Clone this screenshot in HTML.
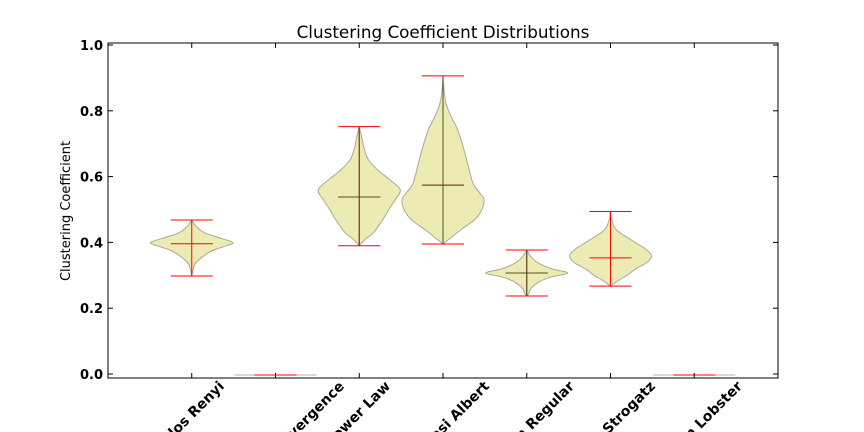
<!DOCTYPE html>
<html><head><meta charset="utf-8"><style>
html,body{margin:0;background:#fff;width:864px;height:432px;overflow:hidden;}
svg{display:block;font-family:"DejaVu Sans","Liberation Sans",sans-serif;}
</style></head><body>
<svg id="chart" width="864" height="432" viewBox="0 0 864 432">
<rect width="864" height="432" fill="#fff"/>
<text x="443" y="38" text-anchor="middle" font-size="16.8">Clustering Coefficient Distributions</text>
<text transform="translate(70,211) rotate(-90)" text-anchor="middle" font-size="13">Clustering Coefficient</text>
<defs></defs>
<g id="marks"></g>
<g id="axes"></g>
</svg>
<script>
const categories=["Erdos Renyi","Kullback-Leibler Divergence","Power Law","Barabasi Albert","Random Regular","Watts Strogatz","Random Lobster"];
const mins=[0.298,0,0.39,0.395,0.237,0.267,0];
const maxs=[0.468,0,0.752,0.906,0.377,0.494,0];
const means=[0.396,0,0.538,0.574,0.307,0.353,0];
const profiles=[
[[0.468,0],[0.45,0.1],[0.43,0.3],[0.415,0.65],[0.40,1.0],[0.39,0.85],[0.375,0.5],[0.355,0.25],[0.335,0.08],[0.315,0.03],[0.298,0]],
null,
[[0.752,0],[0.72,0.06],[0.68,0.13],[0.65,0.23],[0.62,0.45],[0.59,0.75],[0.56,1.0],[0.53,0.88],[0.50,0.72],[0.47,0.58],[0.43,0.35],[0.41,0.15],[0.39,0]],
[[0.906,0],[0.87,0.02],[0.83,0.06],[0.79,0.17],[0.75,0.33],[0.70,0.47],[0.64,0.6],[0.58,0.73],[0.55,0.9],[0.53,1.0],[0.50,0.95],[0.47,0.78],[0.44,0.45],[0.41,0.15],[0.395,0]],
[[0.377,0],[0.36,0.08],[0.34,0.25],[0.32,0.6],[0.307,1.0],[0.295,0.6],[0.28,0.3],[0.26,0.1],[0.245,0.05],[0.237,0]],
[[0.494,0],[0.47,0.03],[0.44,0.13],[0.42,0.35],[0.40,0.6],[0.38,0.85],[0.36,1.0],[0.34,0.9],[0.32,0.62],[0.30,0.4],[0.285,0.2],[0.267,0]],
null];
const innerDark=[false,false,true,true,true,false,false];
const yTicks=[0,0.2,0.4,0.6,0.8,1.0];
const yTickLabels=["0.0","0.2","0.4","0.6","0.8","1.0"];
const labelEnds=[227,347,393,492,577,658,745];

const NS="http://www.w3.org/2000/svg";
const L=108,R=778,T=43,B=378;
function xs(i){return L+(R-L)*(i+1)/8;}
function ys(v){return 374-v*329;}
const HW=41, CAP=21;
const svg=document.getElementById('chart');
const marks=document.getElementById('marks');
const axes=document.getElementById('axes');
const defs=svg.querySelector('defs');
function mk(tag,attrs,parent){const e=document.createElementNS(NS,tag);for(const k in attrs)e.setAttribute(k,attrs[k]);parent.appendChild(e);return e;}
function smooth(pts){
  let d="M"+pts[0][0]+","+pts[0][1];
  for(let i=0;i<pts.length-1;i++){
    const p0=pts[i-1]||pts[i],p1=pts[i],p2=pts[i+1],p3=pts[i+2]||pts[i+1];
    const c1=[p1[0]+(p2[0]-p0[0])/6,p1[1]+(p2[1]-p0[1])/6];
    const c2=[p2[0]-(p3[0]-p1[0])/6,p2[1]-(p3[1]-p1[1])/6];
    d+=" C"+c1[0]+","+c1[1]+" "+c2[0]+","+c2[1]+" "+p2[0]+","+p2[1];
  }
  return d;
}
categories.forEach((c,i)=>{
  const x=xs(i);
  const g=mk('g',{},marks);
  
  
  const prof=profiles[i];
  function lines(color,parent,clip){
    const lg=mk('g',clip?{'clip-path':clip}:{},parent);
    if(maxs[i]===mins[i]){
      const yy=ys(mins[i])+1;
      mk('line',{x1:x-CAP,x2:x+CAP,y1:yy,y2:yy,stroke:color,'stroke-width':1},lg);
      return;
    }
    mk('line',{x1:x,x2:x,y1:ys(maxs[i]),y2:ys(mins[i]),stroke:color,'stroke-width':1},lg);
    [maxs[i],mins[i],means[i]].forEach(v=>mk('line',{x1:x-CAP,x2:x+CAP,y1:ys(v),y2:ys(v),stroke:color,'stroke-width':1},lg));
  }
  if(!prof){
    const yy=ys(0)+1;
    const body=mk('line',{x1:x-HW,x2:x+HW,y1:yy,y2:yy,stroke:'#b0b0a8','stroke-width':1},g);
    
    
    lines('#ff0000',g,null);
    return;
  }
  const right=prof.map(p=>[x+p[1]*HW,ys(p[0])]);
  const left=prof.slice().reverse().map(p=>[x-p[1]*HW,ys(p[0])]);
  const d=smooth(right)+" L"+smooth(left).slice(1)+" Z";
  const body=mk('path',{d:d,fill:'#ecebb4',stroke:'#aaa996','stroke-width':1},g);
  
  
  lines('#ff0000',g,null);
  if(innerDark[i]){
    const cp=mk('clipPath',{id:'clip'+i},defs);
    mk('path',{d:d},cp);
    lines('#4f4f22',g,'url(#clip'+i+')');
  }
});
mk('rect',{x:L,y:T,width:R-L,height:B-T,fill:'none',stroke:'#000','stroke-width':1},axes);
yTicks.forEach((v,k)=>{
  const y=ys(v);
  mk('line',{x1:L,x2:L+5,y1:y,y2:y,stroke:'#000'},axes);
  mk('line',{x1:R-5,x2:R,y1:y,y2:y,stroke:'#000'},axes);
  const t=mk('text',{x:L-5,y:y+5,'text-anchor':'end','font-size':13,'font-weight':'bold'},axes);
  t.textContent=yTickLabels[k];
  
  
});
categories.forEach((c,i)=>{
  const x=xs(i);
  mk('line',{x1:x,x2:x,y1:B,y2:B-5,stroke:'#000'},axes);
  mk('line',{x1:x,x2:x,y1:T,y2:T+5,stroke:'#000'},axes);
  const ex=labelEnds[i]-2, ey=387;
  const t=mk('text',{x:ex,y:ey,'text-anchor':'end','font-size':14,'font-weight':'bold',transform:'rotate(-45 '+ex+' '+ey+')'},axes);
  t.textContent=c;
  
  
});
</script>
</body></html>
